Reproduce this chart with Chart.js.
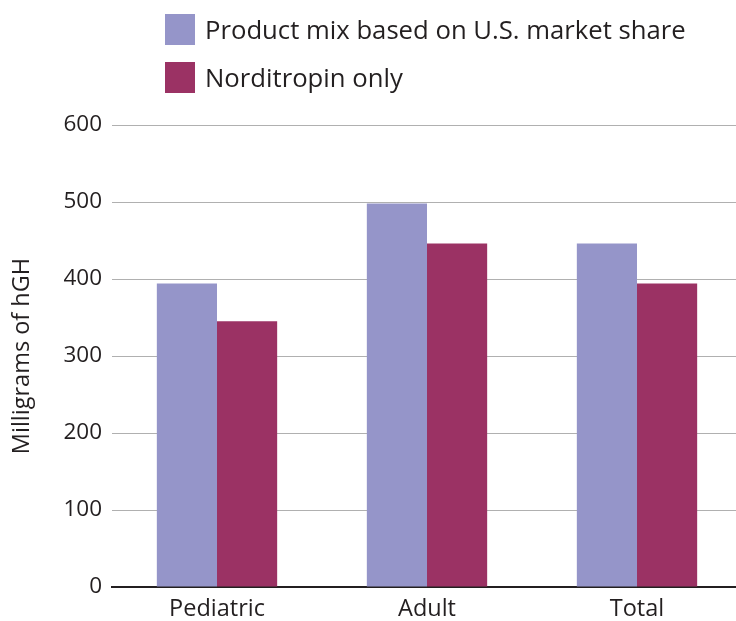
<!DOCTYPE html>
<html>
<head>
<meta charset="utf-8">
<script src="https://cdn.jsdelivr.net/npm/chart.js@4.4.1/dist/chart.umd.min.js"></script>
<style>
  html, body { margin: 0; padding: 0; background: #fff; overflow: hidden; width: 736px; height: 621px; }
  #wrap { position: relative; width: 742px; height: 621px; }
  canvas { position: absolute; left: 0; top: 0; }
  .leg { position: absolute; left: 165px; display: flex; align-items: center; font-family: "Open Sans", sans-serif; font-size: 25.7px; color: #231f20; white-space: nowrap; }
  .leg .box { width: 30px; height: 31px; margin-right: 10px; }
</style>
</head>
<body>
<div id="wrap">
  <canvas id="c" width="742" height="621"></canvas>
  <div class="leg" style="top:12px"><div class="box" style="background:#9595c9"></div><span id="l1"></span></div>
  <div class="leg" style="top:60px"><div class="box" style="background:#9b3264"></div><span id="l2"></span></div>
</div>
<script>
const categories = ["Pediatric", "Adult", "Total"];
const seriesNames = ["Product mix based on U.S. market share", "Norditropin only"];
const productMix = [394, 498, 446];
const norditropin = [345, 446, 394];
const yTicks = [0, 100, 200, 300, 400, 500, 600];
const yTitle = "Milligrams of hGH";

document.getElementById('l1').textContent = seriesNames[0];
document.getElementById('l2').textContent = seriesNames[1];

const FONT = "'Open Sans', sans-serif";
const TXT = "#231f20";

new Chart(document.getElementById('c'), {
  type: 'bar',
  data: {
    labels: categories,
    datasets: [
      { label: seriesNames[0], data: productMix, backgroundColor: '#9595c9', borderWidth: 0 },
      { label: seriesNames[1], data: norditropin, backgroundColor: '#9b3264', borderWidth: 0 }
    ]
  },
  options: {
    responsive: false,
    animation: false,
    devicePixelRatio: 1,
    layout: { padding: { top: 125, right: 0, bottom: 0, left: 0 } },
    plugins: { legend: { display: false }, tooltip: { enabled: false } },
    datasets: { bar: { categoryPercentage: 0.573, barPercentage: 1.0 } },
    scales: {
      x: {
        grid: { display: false, drawTicks: false },
        border: { display: true, color: '#231f20', width: 2 },
        ticks: { color: TXT, font: { family: FONT, size: 23.5 }, padding: 8 },
        afterFit: s => { s.height = 34; }
      },
      y: {
        min: 0, max: 600,
        afterBuildTicks: s => { s.ticks = yTicks.map(v => ({ value: v })); },
        grid: { color: ctx => ctx.index === 0 ? 'rgba(0,0,0,0)' : '#b0b0b0', lineWidth: 1, drawTicks: false },
        border: { display: false },
        ticks: { color: TXT, font: { family: FONT, size: 22.5 }, padding: 10 },
        title: { display: true, text: yTitle, color: TXT, font: { family: FONT, size: 23.5 }, padding: { top: 8, bottom: 0 } },
        afterFit: s => { s.width = 112; }
      }
    }
  }
});
</script>
</body>
</html>
